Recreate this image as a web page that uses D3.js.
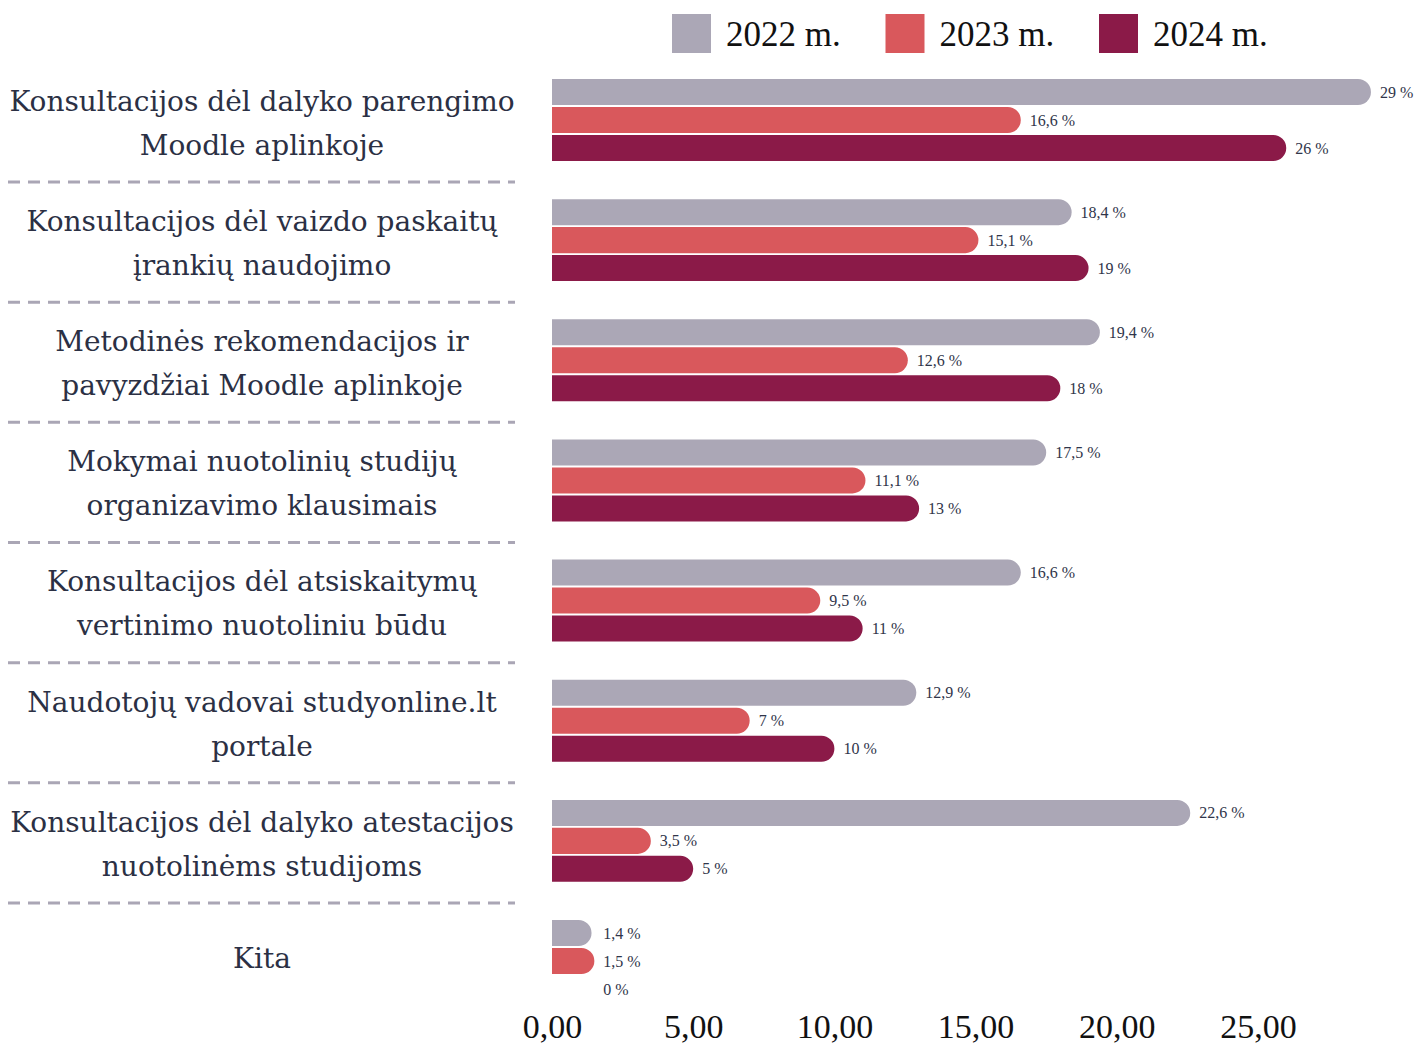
<!DOCTYPE html>
<meta charset="utf-8">
<style>
  body { margin: 0; background: #fff; }
  .cat { font-family: "DejaVu Serif", Georgia, serif; font-size: 28px; fill: #2b3044; }
  .val { font-family: "Liberation Serif", serif; font-size: 16px; fill: #30354a; }
  .legend text { font-family: "Liberation Serif", serif; font-size: 35px; fill: #111; }
  .x-axis text { font-family: "Liberation Serif", serif; font-size: 34px; fill: #111; }
  .sep { stroke: #aaa6b5; stroke-width: 3; stroke-dasharray: 12 8; }
</style>
<body>
<script src="https://d3js.org/d3.v7.min.js"></script>
<script>
// chart data
var categories = [
  ["Konsultacijos dėl dalyko parengimo", "Moodle aplinkoje"],
  ["Konsultacijos dėl vaizdo paskaitų", "įrankių naudojimo"],
  ["Metodinės rekomendacijos ir", "pavyzdžiai Moodle aplinkoje"],
  ["Mokymai nuotolinių studijų", "organizavimo klausimais"],
  ["Konsultacijos dėl atsiskaitymų", "vertinimo nuotoliniu būdu"],
  ["Naudotojų vadovai studyonline.lt", "portale"],
  ["Konsultacijos dėl dalyko atestacijos", "nuotolinėms studijoms"],
  ["Kita"]
];
var years = ["2022 m.", "2023 m.", "2024 m."];
var v2022 = [29, 18.4, 19.4, 17.5, 16.6, 12.9, 22.6, 1.4];
var v2023 = [16.6, 15.1, 12.6, 11.1, 9.5, 7, 3.5, 1.5];
var v2024 = [26, 19, 18, 13, 11, 10, 5, 0];
var colors = ["#aba7b6", "#d9585c", "#8b1a48"];
var ticks = [0, 5, 10, 15, 20, 25];

var W = 1416, H = 1050;
var svg = d3.select("body").append("svg").attr("width", W).attr("height", H);

var keys = categories.map(function(c){ return c.join(" "); });
var series = [v2022, v2023, v2024];

var x = d3.scaleLinear().domain([0, 25]).range([552, 1258]);
var y = d3.scaleBand().domain(keys).range([79, 1002]).paddingInner(0.318).paddingOuter(0);
var y1 = d3.scaleBand().domain(years).range([0, y.bandwidth()]).paddingInner(0.07);

function fmt(v){ return String(v).replace(".", ",") + " %"; }

// rounded right end bar
function barPath(x0, y0, w, h){
  var r = Math.min(h / 2, w);
  return "M" + x0 + "," + y0 + "H" + (x0 + w - r) +
    "A" + r + "," + r + " 0 0 1 " + (x0 + w) + "," + (y0 + r) +
    "V" + (y0 + h - r) +
    "A" + r + "," + r + " 0 0 1 " + (x0 + w - r) + "," + (y0 + h) +
    "H" + x0 + "Z";
}

var groups = svg.selectAll(".grp").data(keys).enter().append("g")
  .attr("class", "grp")
  .attr("transform", function(d){ return "translate(0," + y(d) + ")"; });

groups.each(function(k, i){
  var g = d3.select(this);
  var rows = years.map(function(yr, j){ return { year: yr, v: series[j][i], c: colors[j] }; });
  g.selectAll("path").data(rows.filter(function(r){ return r.v > 0; })).enter().append("path")
    .attr("d", function(r){ return barPath(x(0), y1(r.year), x(r.v) - x(0), y1.bandwidth()); })
    .attr("fill", function(r){ return r.c; });
  g.selectAll("text.val").data(rows).enter().append("text")
    .attr("class", "val")
    .attr("x", function(r){ return Math.max(x(r.v), x(1.5)) + 9; })
    .attr("y", function(r){ return y1(r.year) + y1.bandwidth() / 2; })
    .attr("dy", "0.35em")
    .text(function(r){ return fmt(r.v); });
});

// category labels
categories.forEach(function(lines, i){
  var cy = y(keys[i]) + y.bandwidth() / 2 + (lines.length > 1 ? 3 : -3);
  var t = svg.append("text").attr("class", "cat").attr("text-anchor", "middle")
    .attr("x", 262).attr("y", cy - (lines.length - 1) * 22);
  lines.forEach(function(l, j){
    t.append("tspan").attr("x", 262).attr("dy", j === 0 ? "0.35em" : 44).text(l);
  });
});

// dashed separators
var step = y.step(), gap = step - y.bandwidth();
svg.selectAll(".sep").data(keys.slice(0, -1)).enter().append("line")
  .attr("class", "sep")
  .attr("x1", 8).attr("x2", 515)
  .attr("y1", function(d){ return y(d) + y.bandwidth() + gap / 2 + 2; })
  .attr("y2", function(d){ return y(d) + y.bandwidth() + gap / 2 + 2; });

// x axis
var ax = svg.append("g").attr("class", "x-axis").attr("transform", "translate(0,1004)")
  .call(d3.axisBottom(x).tickValues(ticks).tickSize(0).tickPadding(10)
    .tickFormat(function(d){ return d3.format(".2f")(d).replace(".", ","); }));
ax.select(".domain").remove();
ax.selectAll("text").attr("font-family", null).attr("font-size", null);

// legend
var lg = svg.append("g").attr("class", "legend");
var li = lg.selectAll("g").data(years).enter().append("g")
  .attr("transform", function(d, i){ return "translate(" + (672 + i * 213.5) + ",14)"; });
li.append("rect").attr("width", 39).attr("height", 39)
  .attr("fill", function(d, i){ return colors[i]; });
li.append("text").attr("x", 54).attr("y", 20).attr("dy", "0.35em").text(function(d){ return d; });
</script>
